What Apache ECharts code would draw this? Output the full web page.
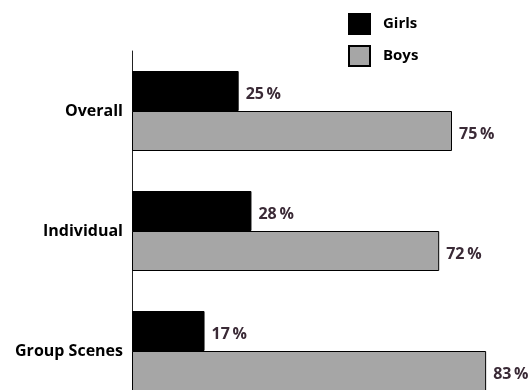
<!DOCTYPE html>
<html>
<head>
<meta charset="utf-8">
<script src="https://cdn.jsdelivr.net/npm/echarts@6/dist/echarts.min.js"></script>
<style>html,body{margin:0;padding:0;background:#fff;}#c{width:532px;height:390px;}</style>
</head>
<body>
<div id="c"></div>
<script>
var categories = ['Overall', 'Individual', 'Group Scenes'];
var girls = [25, 28, 17];
var boys = [75, 72, 83];
var seriesNames = ['Girls', 'Boys'];

var chart = echarts.init(document.getElementById('c'), null, {renderer: 'canvas'});
var labelStyle = {
  show: true, position: 'right', distance: 7, offset: [0, 3],
  color: '#3a2a36', fontFamily: 'Open Sans', fontWeight: 'bold', fontSize: 16,
  formatter: function (p) { return p.value + '\u2009%'; }
};
chart.setOption({
  animation: false,
  legend: {
    orient: 'vertical', left: 348, top: 13, padding: 0,
    itemWidth: 21, itemHeight: 20, itemGap: 10,
    textStyle: {fontFamily: 'Open Sans', fontWeight: 'bold', fontSize: 15, color: '#000', padding: [0, 0, 0, 8]},
    data: [
      {name: seriesNames[0], icon: 'rect'},
      {name: seriesNames[1], icon: 'rect'}
    ]
  },
  grid: {left: 132, top: 51, height: 360, width: 384, outerBoundsMode: 'none', containLabel: false},
  xAxis: {type: 'value', min: 0, max: 90, show: false},
  yAxis: {
    type: 'category', data: categories, inverse: true,
    axisLine: {show: true, lineStyle: {color: '#222', width: 1}},
    axisTick: {show: false},
    axisLabel: {margin: 9, color: '#000', fontFamily: 'Open Sans', fontWeight: 'bold', fontSize: 16}
  },
  series: [
    {
      name: seriesNames[0], type: 'bar', data: girls, barWidth: 40, barGap: '0%',
      itemStyle: {color: '#000', borderColor: '#000', borderWidth: 1},
      label: labelStyle
    },
    {
      name: seriesNames[1], type: 'bar', data: boys, barWidth: 40, barGap: '0%',
      itemStyle: {color: '#a6a6a6', borderColor: '#000', borderWidth: 1},
      label: labelStyle
    }
  ]
});
</script>
</body>
</html>
